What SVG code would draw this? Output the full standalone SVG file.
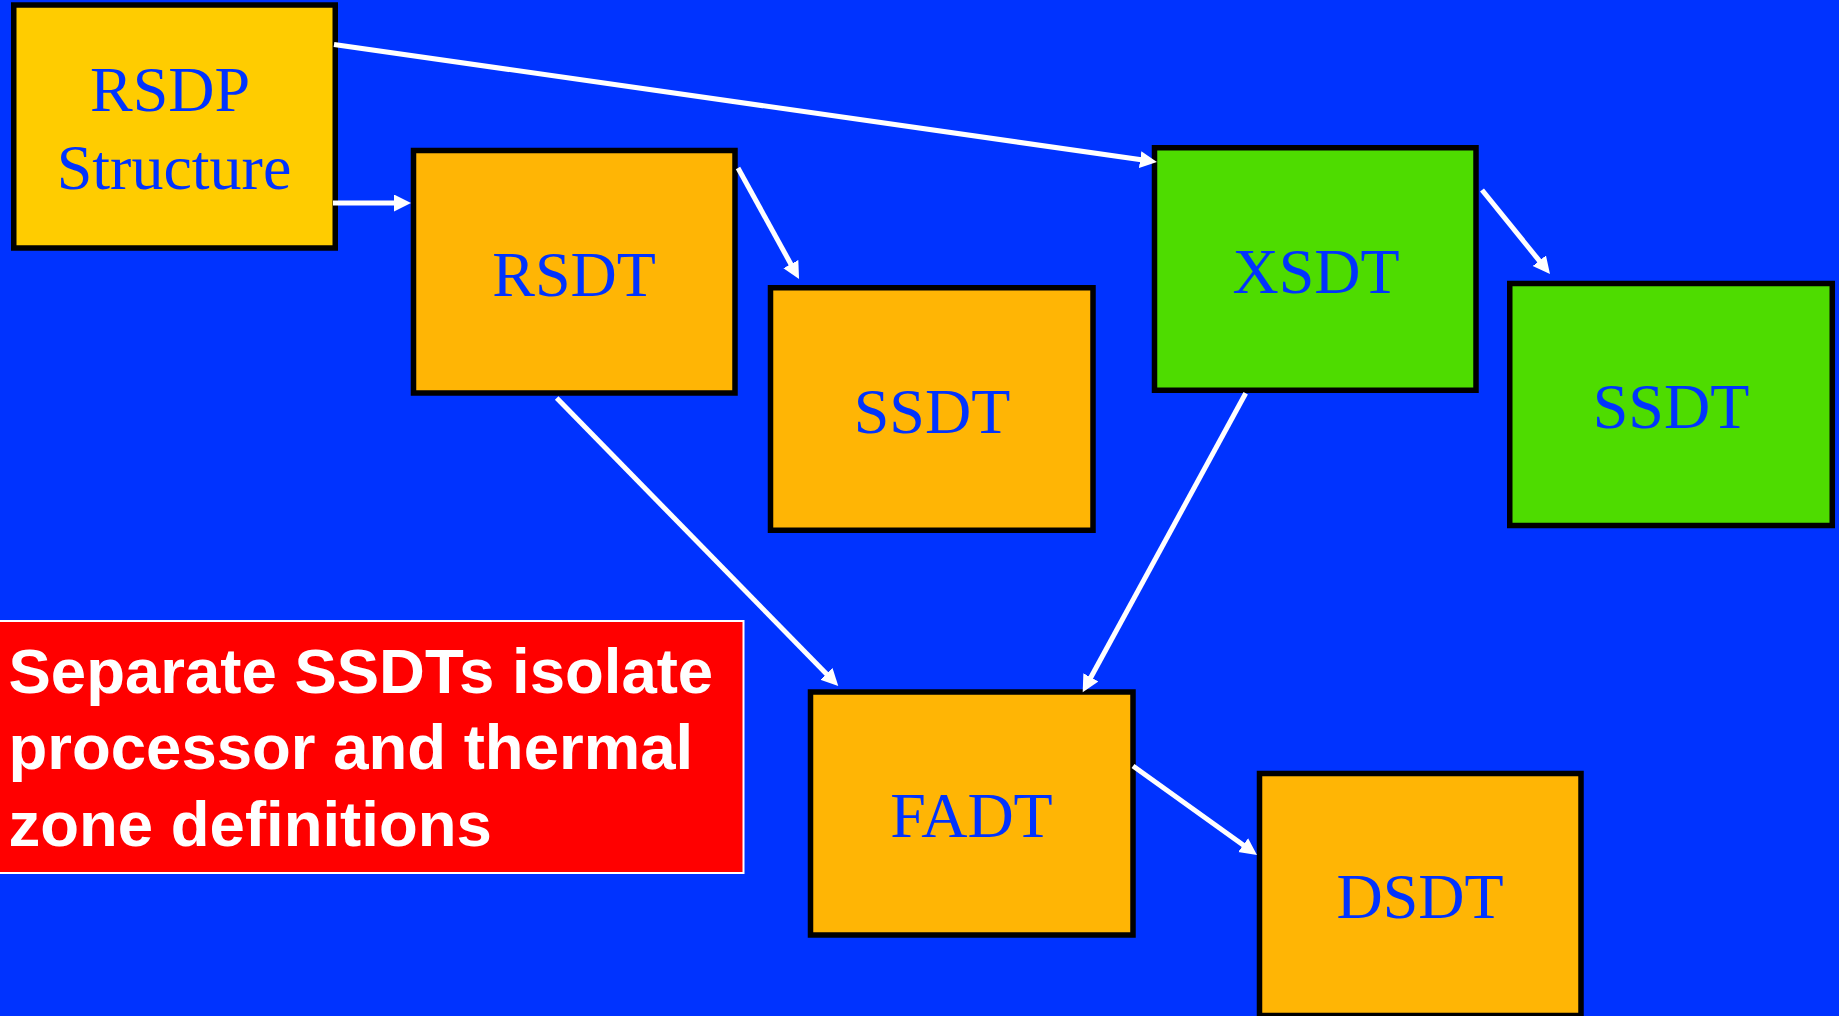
<svg xmlns="http://www.w3.org/2000/svg" width="1839" height="1016" viewBox="0 0 1839 1016">
<style>
.box{stroke:#000;stroke-width:5.5}
.or{fill:#FFB505}
.gr{fill:#4EDC00}
.lbl{font-family:"Liberation Serif","Times New Roman",serif;font-size:64px;fill:#0033FF;text-anchor:middle}
.con{stroke:#fff;stroke-width:5;fill:none}
.note{font-family:"Liberation Sans",Arial,sans-serif;font-weight:bold;font-size:63.5px;fill:#fff}
</style>
<defs>
<marker id="ah" markerUnits="userSpaceOnUse" markerWidth="18" markerHeight="18" refX="3" refY="8.5" orient="auto">
<path d="M0,0 L17,8.5 L0,17 z" fill="#fff"/>
</marker>
</defs>
<rect width="1839" height="1016" fill="#0033FF"/>
<g id="rsdp">
<rect class="box" x="13.75" y="5" width="321.5" height="243" fill="#FFCC00"/>
<text class="lbl" x="170" y="111">RSDP</text>
<text class="lbl" x="174" y="189">Structure</text>
</g>
<g id="rsdt">
<rect class="box or" x="413.5" y="150.5" width="321.5" height="242.5"/>
<text class="lbl" x="574" y="296">RSDT</text>
</g>
<g id="ssdt1">
<rect class="box or" x="770.5" y="287.75" width="322.5" height="242.5"/>
<text class="lbl" x="932" y="433">SSDT</text>
</g>
<g id="xsdt">
<rect class="box gr" x="1154.5" y="147.75" width="321.5" height="242.5"/>
<text class="lbl" x="1316" y="293">XSDT</text>
</g>
<g id="ssdt2">
<rect class="box gr" x="1509.75" y="283.5" width="322.5" height="242"/>
<text class="lbl" x="1671" y="428">SSDT</text>
</g>
<g id="fadt">
<rect class="box or" x="810.5" y="692" width="322.5" height="243"/>
<text class="lbl" x="971.5" y="837">FADT</text>
</g>
<g id="dsdt">
<rect class="box or" x="1259.5" y="773.5" width="321.5" height="242"/>
<text class="lbl" x="1420" y="918">DSDT</text>
</g>
<g id="note">
<rect x="-5" y="621" width="748.5" height="252" fill="#FF0000" stroke="#fff" stroke-width="2"/>
<text class="note" x="8.5" y="693">Separate SSDTs isolate</text>
<text class="note" x="8.5" y="769">processor and thermal</text>
<text class="note" x="8.5" y="846">zone definitions</text>
</g>
<g id="connectors">
<line class="con" x1="334" y1="44.5" x2="1143.1" y2="160" marker-end="url(#ah)"/>
<line class="con" x1="333" y1="203" x2="397" y2="203" marker-end="url(#ah)"/>
<line class="con" x1="738" y1="168" x2="792.3" y2="266.7" marker-end="url(#ah)"/>
<line class="con" x1="556.7" y1="398" x2="828.5" y2="676" marker-end="url(#ah)"/>
<line class="con" x1="1482" y1="190" x2="1541.2" y2="263.1" marker-end="url(#ah)"/>
<line class="con" x1="1245.7" y1="393.3" x2="1089.4" y2="680" marker-end="url(#ah)"/>
<line class="con" x1="1133" y1="766" x2="1245.6" y2="846.8" marker-end="url(#ah)"/>
</g>
</svg>
